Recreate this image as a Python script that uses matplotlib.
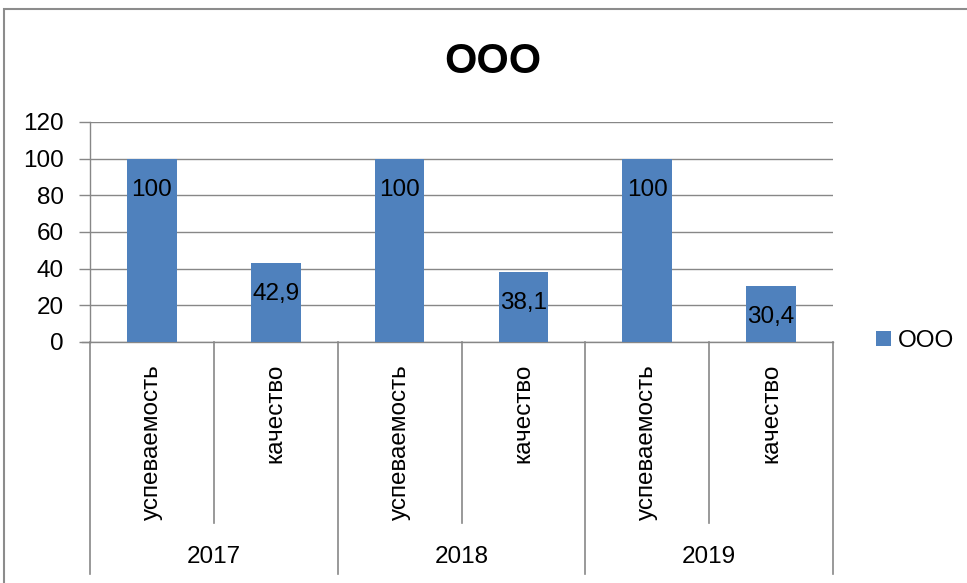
import matplotlib.pyplot as plt
from matplotlib.patches import Rectangle

plt.rcParams['font.family'] = ['Liberation Sans', 'DejaVu Sans']

# data
years = ["2017", "2018", "2019"]
metrics = ["успеваемость", "качество"]
values = [100, 42.9, 100, 38.1, 100, 30.4]
series_name = "ООО"
y_ticks = [0, 20, 40, 60, 80, 100, 120]

BAR = "#4F81BD"
GRAY = "#878787"
W, H = 967, 583
FS = 17.5

fig = plt.figure(figsize=(W / 100, H / 100), dpi=100)

# outer chart frame (runs off the right/bottom edge as in the screenshot)
fig.patches.append(Rectangle((4 / W, -0.05), 1.1, 1 - 9 / H + 0.05,
                             transform=fig.transFigure, fill=False,
                             edgecolor="#8c8c8c", linewidth=1.5))

# plot area in pixel terms: x 90..833, y 122..342
ax = fig.add_axes([90 / W, 1 - 342 / H, (833 - 90) / W, (342 - 122) / H])

n = len(values)
xs = [i + 0.5 for i in range(n)]
bars = ax.bar(xs, values, width=0.4, color=BAR, label=series_name, zorder=3)

for x, v in zip(xs, values):
    ax.annotate(f"{v:g}".replace(".", ","), (x, v), xytext=(0, -31),
                textcoords="offset pixels", ha="center", va="center",
                fontsize=FS, zorder=4)

ax.set_xlim(0, n)
ax.set_ylim(0, 120)
ax.set_yticks(y_ticks)
ax.tick_params(axis="y", length=8, width=1, color=GRAY, labelsize=FS, pad=11)
ax.set_xticks([])
ax.grid(axis="y", color=GRAY, linewidth=1, zorder=0)
ax.set_axisbelow(True)
for side in ["top", "right"]:
    ax.spines[side].set_visible(False)
for side in ["left", "bottom"]:
    ax.spines[side].set_color(GRAY)
    ax.spines[side].set_linewidth(1)
# small outward tick at the bottom-left like Excel
ax.plot([-8 / 124, 0], [0, 0], color=GRAY, lw=1, clip_on=False)

# multi-level category axis
tr = ax.get_xaxis_transform()
px = 220.0
y_inner = -(523 - 342) / px
y_outer = -(574 - 342) / px
per_year = len(metrics)
for i in range(n + 1):
    y_end = y_outer if i % per_year == 0 else y_inner
    ax.plot([i, i], [0, y_end], color=GRAY, lw=1.2, transform=tr, clip_on=False)

for i, x in enumerate(xs):
    ax.text(x, -(364 - 342) / px, metrics[i % per_year], rotation=90,
            ha="center", va="top", fontsize=FS, transform=tr)

for j, yr in enumerate(years):
    ax.text(j * per_year + per_year / 2, -(557 - 342) / px, yr,
            ha="center", va="center", fontsize=FS, transform=tr)

fig.text(493 / W, 1 - 62 / H, "ООО", ha="center", va="center",
         fontsize=30, fontweight="bold")

ax.legend(frameon=False, loc="center left",
          bbox_to_anchor=(876 / W, 1 - 341 / H), bbox_transform=fig.transFigure,
          borderaxespad=0, borderpad=0, handlelength=0.6, handleheight=0.6,
          handletextpad=0.3, fontsize=FS)

fig.savefig("out.png", dpi=100)
